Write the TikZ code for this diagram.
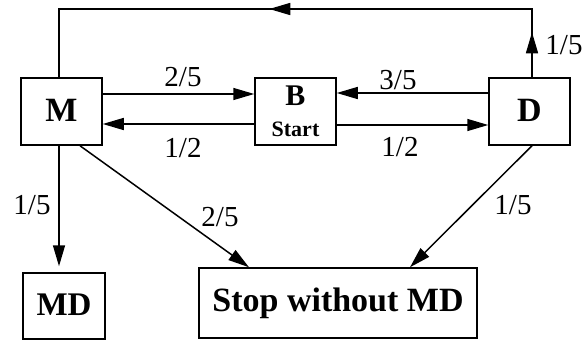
\documentclass[tikz,border=0pt]{standalone}
\usepackage{fontspec}
\setmainfont{Liberation Serif}
\usetikzlibrary{arrows.meta,decorations.markings}

\begin{document}
\begin{tikzpicture}[x=1pt,y=-1pt,
  tipA/.tip={Triangle[length=21pt,width=12pt]},
  statebox/.style={draw, line width=1.5pt, inner sep=0pt, minimum width=81pt, minimum height=67pt,
    font=\bfseries\fontsize{34}{34}\selectfont},
  line/.style={line width=1.5pt},
  arr/.style={line width=1.5pt, -{tipA}},
  lbl/.style={inner sep=0pt, font=\fontsize{29}{29}\selectfont}]
\useasboundingbox (0,0) rectangle (582,340);

% states
\node[statebox] (M) at (61.5,111.5) {\raisebox{2.5pt}{M}};
\node[statebox, align=center] (B) at (295.5,111.5)
  {{\fontsize{30}{30}\selectfont B}\\[-3pt]{\fontsize{22}{22}\selectfont Start}};
\node[statebox] (D) at (529.5,111.5) {\raisebox{2.5pt}{D}};
\node[statebox, minimum width=82pt, minimum height=66pt, font=\bfseries\fontsize{33}{33}\selectfont] (MD) at (64,306) {\raisebox{2.5pt}{MD}};
\node[statebox, minimum width=278pt, minimum height=70pt, font=\bfseries\fontsize{34}{34}\selectfont] (S) at (338,303) {Stop without MD};

% corners of the return path over the top
\coordinate (topR) at (532,9);
\coordinate (topL) at (59,9);

% horizontal transitions
\draw[arr] ([yshift=17.5pt]M.east) -- ([yshift=17.5pt]B.west);
\draw[arr] ([yshift=-12.5pt]B.west) -- ([yshift=-12.5pt]M.east);
\draw[arr] ([yshift=18.5pt]D.west) -- ([yshift=18.5pt]B.east);
\draw[arr] ([yshift=-13.5pt]B.east) -- ([yshift=-13.5pt]D.west);

% D back to M over the top
\draw[line, postaction={decorate}, decoration={markings,
    mark=at position 45pt with {\arrow{tipA}},
    mark=at position 331pt with {\arrow{tipA}}}]
  ([xshift=2.5pt]D.north) -- (topR) -- (topL) -- ([xshift=-2.5pt]M.north);

% transitions to the absorbing states
\draw[arr, shorten >=6pt] ([xshift=-2.5pt]M.south) -- ([xshift=-2.5pt]M.south |- MD.north);
\draw[arr] ([xshift=18.5pt]M.south) -- ([xshift=-89pt]S.north);
\draw[arr] ([xshift=2.5pt]D.south) -- ([xshift=72pt]S.north);

% probabilities
\node[lbl] (l1) at (183,77) {2/5};
\node[lbl] (l2) at (183,148) {1/2};
\node[lbl] (l3) at (398,80) {3/5};
\node[lbl] (l4) at (400,147) {1/2};
\node[lbl] (l5) at (564,45) {1/5};
\node[lbl] (l6) at (32,205) {1/5};
\node[lbl] (l7) at (220,217) {2/5};
\node[lbl] (l8) at (513,205) {1/5};
\end{tikzpicture}
\end{document}
